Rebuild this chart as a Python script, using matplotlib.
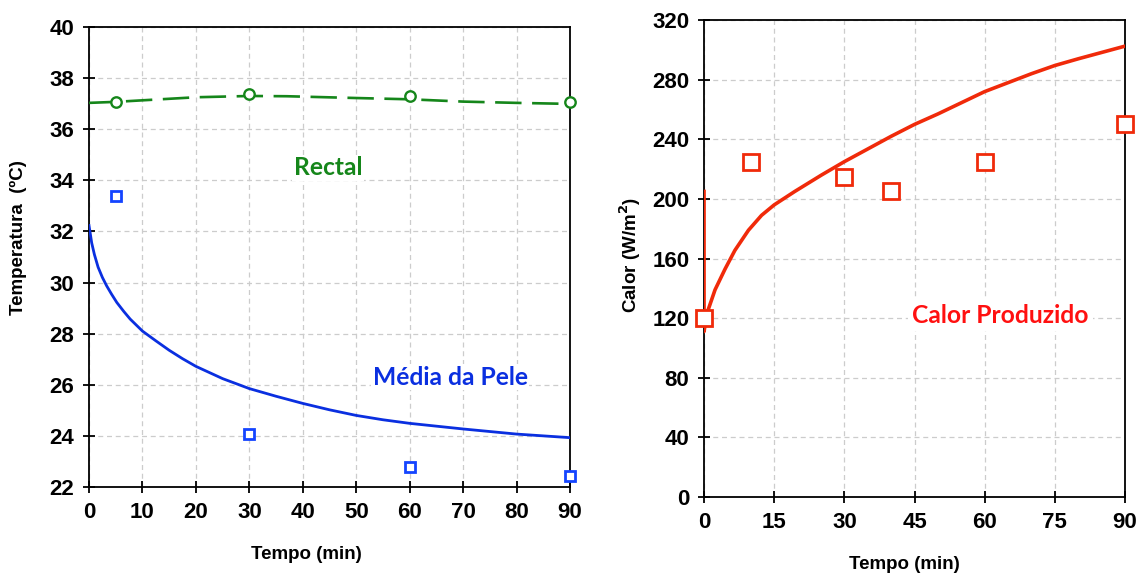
import matplotlib
matplotlib.use('Agg')
import numpy as np
import matplotlib.pyplot as plt
from matplotlib.ticker import MultipleLocator

# Temperature measurements (left panel)
t_obs = [5, 30, 60, 90]
rectal_obs = [37.07, 37.38, 37.31, 37.07]
skin_obs = [33.4, 24.08, 22.8, 22.43]

# Model curves (left panel)
t_rectal = [0, 5, 10, 20, 30, 37, 50, 60, 70, 80, 90]
rectal_model = [37.03, 37.07, 37.13, 37.25, 37.3, 37.29, 37.22, 37.17, 37.08, 37.03, 36.99]
t_skin = [0, 0.5, 1, 1.7, 2.5, 3.3, 4.2, 5.2, 6.5, 7.7, 10, 12.5, 15, 17.5, 20, 25, 30,
          35, 40, 45, 50, 55, 60, 70, 80, 90]
skin_model = [32.23, 31.55, 31.1, 30.6, 30.2, 29.87, 29.55, 29.22, 28.87, 28.57, 28.1,
              27.72, 27.35, 27.02, 26.72, 26.24, 25.85, 25.55, 25.27, 25.02, 24.8, 24.63,
              24.49, 24.27, 24.07, 23.93]

# Heat production (right panel)
t_heat_obs = [0, 10, 30, 40, 60, 90]
heat_obs = [120, 225, 215, 205.5, 225, 250]
t_heat = [0, 0, 0.6, 2.35, 4.5, 6.6, 9.5, 12.3, 15, 19.4, 25.1, 30, 35, 40, 45, 50,
          60, 70, 75, 80, 90]
heat_model = [205, 111, 123, 139, 153, 165.5, 179, 189, 196, 205, 216, 225, 233.5, 242,
              250, 257, 272, 284, 289.5, 294, 302.5]

tick_font = dict(family='Liberation Sans', weight='bold', size=16)
label_font = dict(family='Liberation Sans', weight='bold', size=13.5)
note_font = dict(family='Lato', weight='bold', size=17.7)

GREEN = '#15861a'
BLUE = '#0a2fe0'
BLUE_MK = '#1444ff'
RED = '#f02a0a'
RED_TXT = '#ff1010'


def style_axes(ax):
    ax.grid(True, color='#cccccc', linestyle=(0, (4, 3)), linewidth=0.9)
    ax.set_axisbelow(True)
    for s in ax.spines.values():
        s.set_linewidth(1.3)
        s.set_color('black')
    ax.tick_params(direction='inout', length=9, width=1.3, pad=6)
    for lbl in ax.get_xticklabels() + ax.get_yticklabels():
        lbl.set_fontfamily(tick_font['family'])
        lbl.set_fontweight(tick_font['weight'])
        lbl.set_fontsize(tick_font['size'])


fig = plt.figure(figsize=(11.37, 5.74), dpi=100)

# Left: temperatures
ax1 = fig.add_axes([0.0783, 0.1516, 0.4230, 0.8014])
ax1.plot(t_rectal, rectal_model, color=GREEN, lw=1.9, linestyle=(0, (10, 4)), zorder=3)
ax1.plot(t_obs, rectal_obs, 'o', ms=7.5, mfc='white', mec=GREEN, mew=1.7, zorder=4,
         clip_on=False)
ax1.plot(t_skin, skin_model, color=BLUE, lw=2.0, zorder=3)
ax1.plot(t_obs, skin_obs, 's', ms=7.5, mfc='white', mec=BLUE_MK, mew=2.0, zorder=4,
         clip_on=False)
ax1.set_xlim(0, 90)
ax1.set_ylim(22, 40)
ax1.xaxis.set_major_locator(MultipleLocator(10))
ax1.yaxis.set_major_locator(MultipleLocator(2))
style_axes(ax1)
ax1.set_xlabel('Tempo (min)', **label_font)
ax1.set_ylabel('Temperatura  (ºC)', **label_font)
ax1.xaxis.set_label_coords(0.451, -0.128)
ax1.yaxis.set_label_coords(-0.13, 0.543)
ax1.text(44.7, 34.5, 'Rectal', color=GREEN, ha='center', va='center', zorder=5,
         bbox=dict(facecolor='white', edgecolor='none', pad=1), **note_font)
ax1.text(67.6, 26.3, 'Média da Pele', color=BLUE, ha='center', va='center', zorder=5,
         bbox=dict(facecolor='white', edgecolor='none', pad=1), **note_font)

# Right: heat production
ax2 = fig.add_axes([0.6192, 0.1341, 0.3703, 0.8310])
ax2.plot(t_heat, heat_model, color=RED, lw=2.6, zorder=3)
ax2.plot(t_heat_obs, heat_obs, 's', ms=11, mfc='white', mec=RED, mew=2.0, zorder=4,
         clip_on=False)
ax2.set_xlim(0, 90)
ax2.set_ylim(0, 320)
ax2.xaxis.set_major_locator(MultipleLocator(15))
ax2.yaxis.set_major_locator(MultipleLocator(40))
style_axes(ax2)
ax2.set_xlabel('Tempo (min)', **label_font)
ax2.set_ylabel('Calor (W/m$^\\mathbf{2}$)', **label_font)
ax2.xaxis.set_label_coords(0.477, -0.124)
ax2.yaxis.set_label_coords(-0.146, 0.507)
ax2.text(63.3, 122, 'Calor Produzido', color=RED_TXT, ha='center', va='center', zorder=5,
         bbox=dict(facecolor='white', edgecolor='none', pad=3), **note_font)

fig.savefig('out.png', dpi=100)
